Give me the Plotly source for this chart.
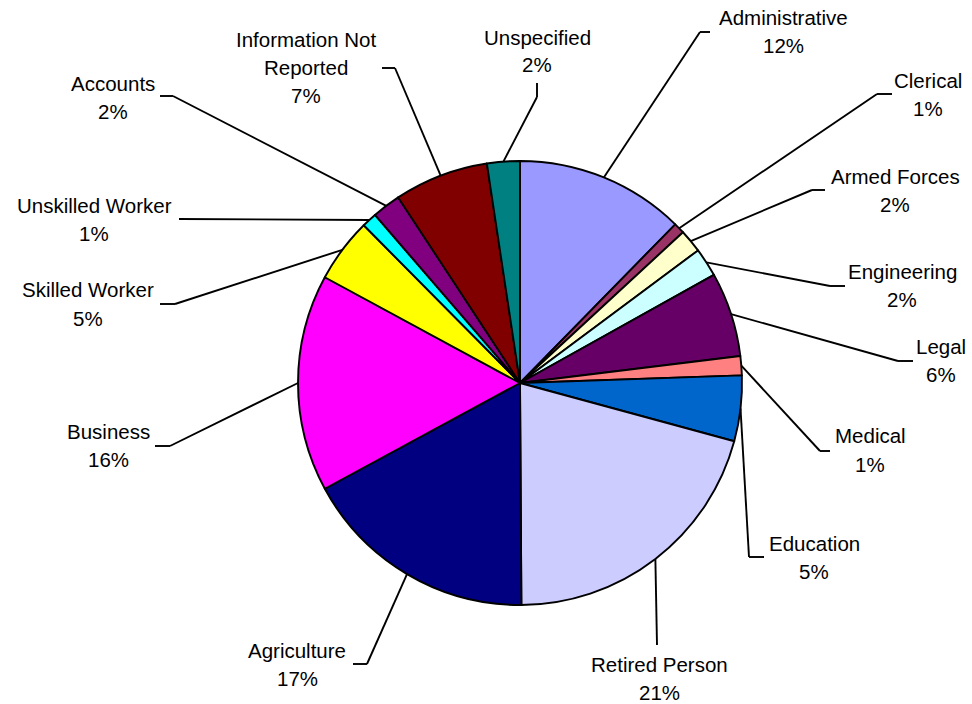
import math
import plotly.graph_objects as go

# ---------------- data ----------------
categories = ["Administrative", "Clerical", "Armed Forces", "Engineering", "Legal",
              "Medical", "Education", "Retired Person", "Agriculture", "Business",
              "Skilled Worker", "Unskilled Worker", "Accounts",
              "Information Not Reported", "Unspecified"]
values = [12.4, 0.8, 1.7, 2.1, 6.2, 1.4, 4.8, 20.8, 17.3, 15.9, 4.7, 1.1, 2.1, 6.9, 2.4]
colors = ["#9999FF", "#993366", "#FFFFCC", "#CCFFFF", "#660066", "#FF8080", "#0066CC",
          "#CCCCFF", "#000080", "#FF00FF", "#FFFF00", "#00FFFF", "#800080", "#800000",
          "#008080"]

# ---------------- layout (pixels) ----------------
W, H = 972, 704
CX, CY, R = 520, 383, 222
FONT = "Liberation Sans, Arial, sans-serif"
FSIZE = 20.5
LINE_H = 28
LW = 1.9

name_lines = {"Information Not Reported": ["Information Not", "Reported"]}

# label centre x, first line centre y, leader elbow point, stub end (near label)
label_layout = {
    "Administrative":           (783, 18, (700, 32), (710, 32)),
    "Clerical":                 (928, 80, (877, 94), (892, 94)),
    "Armed Forces":             (895, 176, (812, 190), (825, 190)),
    "Engineering":              (902, 271, (830, 286), (845, 286)),
    "Legal":                    (941, 346, (898, 361), (913, 361)),
    "Medical":                  (870, 436, (820, 451), (830, 451)),
    "Education":                (814, 543, (749, 557), (764, 557)),
    "Retired Person":           (659, 664, (657, 645), None),
    "Agriculture":              (297, 650, (367, 664), (353, 664)),
    "Business":                 (108, 431, (170, 446), (155, 446)),
    "Skilled Worker":           (88, 290, (175, 304), (160, 304)),
    "Unskilled Worker":         (94, 205, (179, 219), None),
    "Accounts":                 (113, 83, (173, 96), (160, 96)),
    "Information Not Reported": (306, 39, (395, 68), (382, 68)),
    "Unspecified":              (537, 37, (537, 97), (537, 83)),
}


def px(x):
    return x / W


def py(y):
    return 1 - y / H


fig = go.Figure(go.Pie(
    labels=categories,
    values=values,
    marker=dict(colors=colors, line=dict(color="black", width=LW)),
    sort=False,
    direction="clockwise",
    rotation=0,
    textinfo="none",
    hoverinfo="label+percent",
    showlegend=False,
    domain=dict(x=[px(CX - R), px(CX + R)], y=[py(CY + R), py(CY - R)]),
))

total = sum(values)
cum = 0.0
annotations = []
shapes = []
for name, v in zip(categories, values):
    mid = (cum + v / 2) / total * 2 * math.pi
    cum += v
    ex = CX + R * math.sin(mid)
    ey = CY - R * math.cos(mid)
    lx, ly, elbow, stub = label_layout[name]
    shapes.append(dict(type="line", xref="paper", yref="paper",
                       x0=px(ex), y0=py(ey), x1=px(elbow[0]), y1=py(elbow[1]),
                       line=dict(color="black", width=LW)))
    if stub is not None:
        shapes.append(dict(type="line", xref="paper", yref="paper",
                           x0=px(elbow[0]), y0=py(elbow[1]), x1=px(stub[0]), y1=py(stub[1]),
                           line=dict(color="black", width=LW)))
    pct = f"{round(v / total * 100)}%"
    lines = name_lines.get(name, [name]) + [pct]
    for i, t in enumerate(lines):
        annotations.append(dict(text=t, x=px(lx), y=py(ly + i * LINE_H),
                                xref="paper", yref="paper", showarrow=False,
                                xanchor="center", yanchor="middle",
                                font=dict(family=FONT, size=FSIZE, color="black")))

fig.update_layout(
    width=W, height=H,
    margin=dict(l=0, r=0, t=0, b=0),
    paper_bgcolor="white", plot_bgcolor="white",
    annotations=annotations,
    shapes=shapes,
)

fig.write_html("out.html",
               config={"displayModeBar": False},
               post_script="document.body.style.margin='0';document.body.style.overflow='hidden';")
